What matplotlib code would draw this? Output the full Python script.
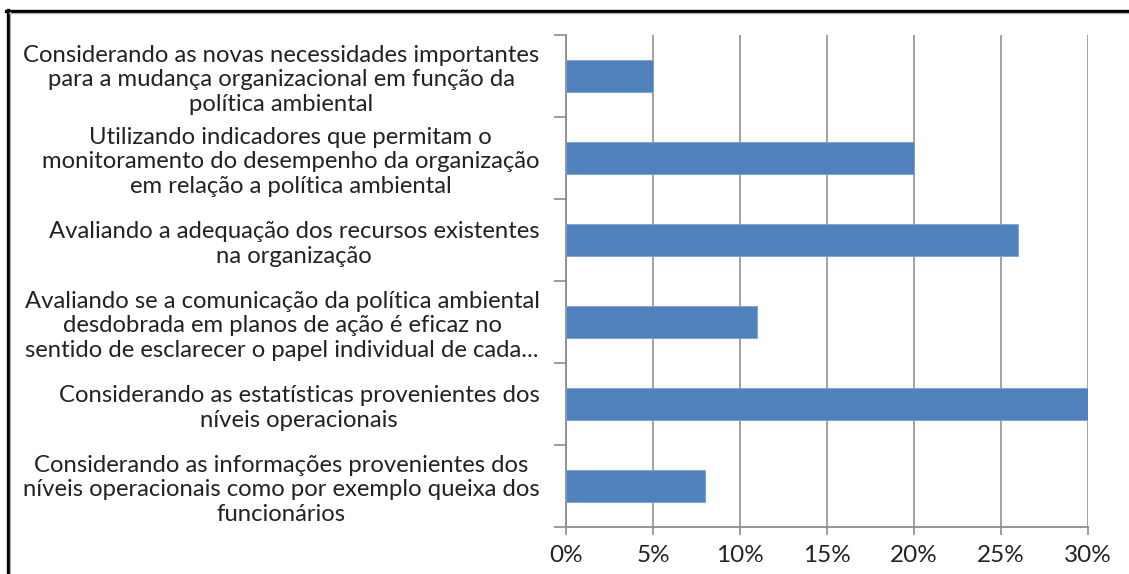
import matplotlib
matplotlib.use("Agg")
import matplotlib.pyplot as plt
from matplotlib.lines import Line2D
from matplotlib.ticker import FixedLocator, FuncFormatter

categories = [
    "Considerando as novas necessidades importantes\npara a mudança organizacional em função da\npolítica ambiental",
    "Utilizando indicadores que permitam o\nmonitoramento do desempenho da organização\nem relação a política ambiental",
    "Avaliando a adequação dos recursos existentes\nna organização",
    "Avaliando se a comunicação da política ambiental\ndesdobrada em planos de ação é eficaz no\nsentido de esclarecer o papel individual de cada...",
    "Considerando as estatísticas provenientes dos\nníveis operacionais",
    "Considerando as informações provenientes dos\nníveis operacionais como por exemplo queixa dos\nfuncionários",
]
values = [5, 20, 26, 11, 30, 8]
x_ticks = [0, 5, 10, 15, 20, 25, 30]

W, H = 1129, 574
plt.rcParams["font.family"] = ["Lato", "DejaVu Sans"]

fig = plt.figure(figsize=(W / 100, H / 100), dpi=100)
fig.patch.set_facecolor("white")

left, right, top, bottom = 566, 1088, 35, 527
ax = fig.add_axes([left / W, 1 - bottom / H, (right - left) / W, (bottom - top) / H])

pos = list(range(len(categories)))
ax.barh(pos, values, height=0.39, color="#4F81BD", edgecolor="#7EA1CF",
        linewidth=0.6, zorder=3)

ax.set_xlim(0, 30)
ax.set_ylim(len(categories) - 0.5, -0.5)

ax.xaxis.set_major_locator(FixedLocator(x_ticks))
ax.xaxis.set_major_formatter(FuncFormatter(lambda v, p: f"{v:.0f}%"))
ax.tick_params(axis="x", length=6, width=1.2, color="#8c8c8c", pad=7,
               labelsize=17.5, labelcolor="#222222")
ax.grid(axis="x", color="#9a9a9a", linewidth=1.3, zorder=0)

ax.set_yticks(pos)
ax.set_yticklabels(categories, multialignment="center", linespacing=1.22)
ax.tick_params(axis="y", which="major", length=0, pad=19,
               labelsize=17.2, labelcolor="#222222")
ax.set_yticks([p - 0.5 for p in pos] + [len(pos) - 0.5], minor=True)
ax.tick_params(axis="y", which="minor", length=9, width=1.2, color="#8c8c8c")

for side in ("top", "right"):
    ax.spines[side].set_visible(False)
for side in ("left", "bottom"):
    ax.spines[side].set_color("#8c8c8c")
    ax.spines[side].set_linewidth(1.3)

# page frame along the top and left edges
def fx(px):
    return px / W

def fy(py):
    return 1 - py / H

fig.add_artist(Line2D([fx(6), fx(W)], [fy(10.5), fy(10.5)], color="black",
                      linewidth=2.4, transform=fig.transFigure))
fig.add_artist(Line2D([fx(7.5), fx(7.5)], [fy(9.5), fy(H)], color="black",
                      linewidth=2.4, transform=fig.transFigure))
fig.add_artist(Line2D([fx(9), fx(W)], [fy(12.6), fy(12.6)], color="#b0b0b0",
                      linewidth=0.9, transform=fig.transFigure))
fig.add_artist(Line2D([fx(9.6), fx(9.6)], [fy(12), fy(H)], color="#b0b0b0",
                      linewidth=0.9, transform=fig.transFigure))

fig.savefig("out.png", dpi=100, facecolor="white")
